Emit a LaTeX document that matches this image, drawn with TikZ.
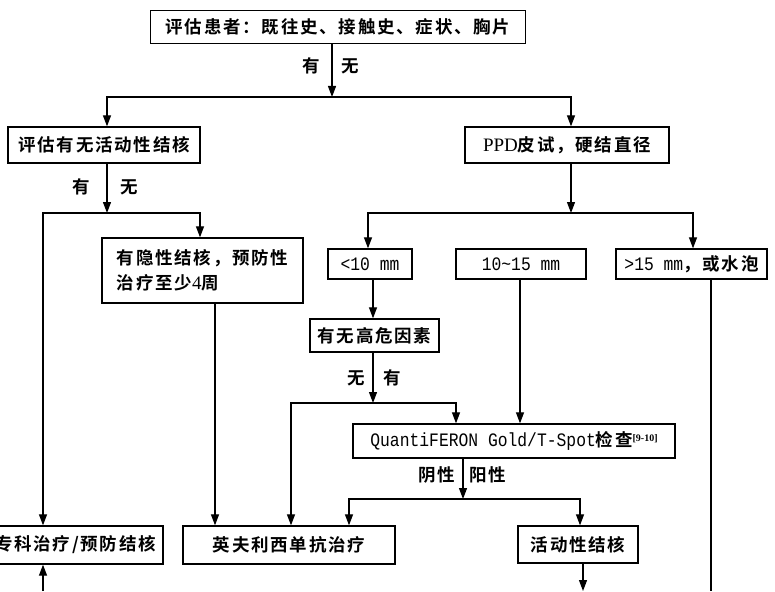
\documentclass[tikz,border=0pt]{standalone}
\usepackage{fontspec}
\setmainfont{Liberation Serif}
\newfontfamily\cjk{Noto Sans CJK SC}[LetterSpace=10, BoldFont=* Bold]
\newfontfamily\monof{Liberation Mono}[FakeStretch=0.86]
\newcommand{\mtxt}[1]{{\fontsize{19}{24}\selectfont\monof\mdseries #1}}
\newcommand{\rtxt}[1]{{\fontsize{19}{24}\selectfont\rmfamily\mdseries #1}}
\usetikzlibrary{arrows.meta}
\begin{document}
\begin{tikzpicture}[x=1pt,y=-1pt,
  box/.style={draw, line width=1.3pt, inner sep=0pt, font=\cjk\fontsize{17.5}{25}\selectfont\bfseries},
  bsz/.style 2 args={minimum width=#1pt, minimum height=#2pt},
  arr/.style={line width=1.2pt, -{Triangle[length=11pt,width=8pt]}},
  ln/.style={line width=1.2pt},
  lbl/.style={font=\cjk\fontsize{17.5}{20}\selectfont\bfseries, inner sep=0pt}]
\useasboundingbox (0,0) rectangle (775,591);
\clip (0,0) rectangle (775,591);
% nodes
\node[box, bsz={375}{33}] (top) at (338,27) {评估患者：既往史、接触史、症状、胸片};
\node[box, bsz={192}{36}] (eval) at (104,145) {评估有无活动性结核};
\node[box, bsz={204}{36}] (ppd) at (567,145) {\rtxt{PPD}皮试，硬结直径};
\node[box, bsz={201}{65}, align=left] (latent) at (202.5,270.5) {有隐性结核，预防性\\治疗至少\rtxt{4}周};
\node[box, bsz={84}{30}] (lt10) at (370,264) {\mtxt{<10 mm}};
\node[box, bsz={130}{30}] (mid) at (521,264) {\mtxt{10\textasciitilde15 mm}};
\node[box, bsz={151}{30}] (gt15) at (691.5,264) {\mtxt{>15 mm}，或水泡};
\node[box, bsz={129}{33}] (risk) at (374.5,335.5) {有无高危因素};
\node[box, bsz={322}{34}] (quanti) at (514,441) {\mtxt{QuantiFERON Gold/T-Spot}检查\raisebox{5pt}{\fontsize{10}{10}\selectfont\rmfamily\bfseries [9-10]}};
\node[box, bsz={175}{38}] (special) at (75.5,545) {专科治疗/预防结核};
\node[box, bsz={212}{38}] (infl) at (289,545) {英夫利西单抗治疗};
\node[box, bsz={120}{37}] (active) at (578,544.5) {活动性结核};
% junctions and helper coordinates
\coordinate (j1) at (332,97);
\coordinate (j2) at (107,213);
\coordinate (j3) at (571,213);
\coordinate (j4) at (373,403);
\coordinate (j5) at (463,499);
\coordinate (c43) at (43,591);
\coordinate (c200) at (200,0);
\coordinate (c215) at (215,0);
\coordinate (c368) at (368,0);
\coordinate (c693) at (693,0);
\coordinate (c456) at (456,0);
\coordinate (c291) at (291,0);
\coordinate (c520) at (520,0);
\coordinate (c711) at (711,591);
\coordinate (c349) at (349,0);
\coordinate (c580) at (580,0);
\coordinate (c583) at (583,591);
% connectors
\draw[arr] (top.south -| j1) -- (j1);
\draw[arr] (j1) -| (eval.north -| j2);
\draw[arr] (j1) -| (ppd.north -| j3);
\draw[arr] (eval.south -| j2) -- (j2);
\draw[arr] (j2) -| (latent.north -| c200);
\draw[arr] (j2) -| (special.north -| c43);
\draw[arr] (c43) -- (special.south -| c43);
\draw[arr] (latent.south -| c215) -- (infl.north -| c215);
\draw[arr] (ppd.south -| j3) -- (j3);
\draw[arr] (j3) -| (lt10.north -| c368);
\draw[arr] (j3) -| (gt15.north -| c693);
\draw[arr] (lt10.south -| j4) -- (risk.north -| j4);
\draw[arr] (risk.south -| j4) -- (j4);
\draw[arr] (j4) -| (quanti.north -| c456);
\draw[arr] (j4) -| (infl.north -| c291);
\draw[arr] (mid.south -| c520) -- (quanti.north -| c520);
\draw[ln] (gt15.south -| c711) -- (c711);
\draw[arr] (quanti.south -| j5) -- (j5);
\draw[arr] (j5) -| (infl.north -| c349);
\draw[arr] (j5) -| (active.north -| c580);
\draw[arr] (active.south -| c583) -- (c583);
% labels
\node[lbl] (l1) at (311,66) {有};
\node[lbl] (l2) at (350,66) {无};
\node[lbl] (l3) at (81,187) {有};
\node[lbl] (l4) at (129,187) {无};
\node[lbl] (l5) at (356,378) {无};
\node[lbl] (l6) at (392,378) {有};
\node[lbl] (l7) at (437,475) {阴性};
\node[lbl] (l8) at (488,475) {阳性};
\end{tikzpicture}
\end{document}
